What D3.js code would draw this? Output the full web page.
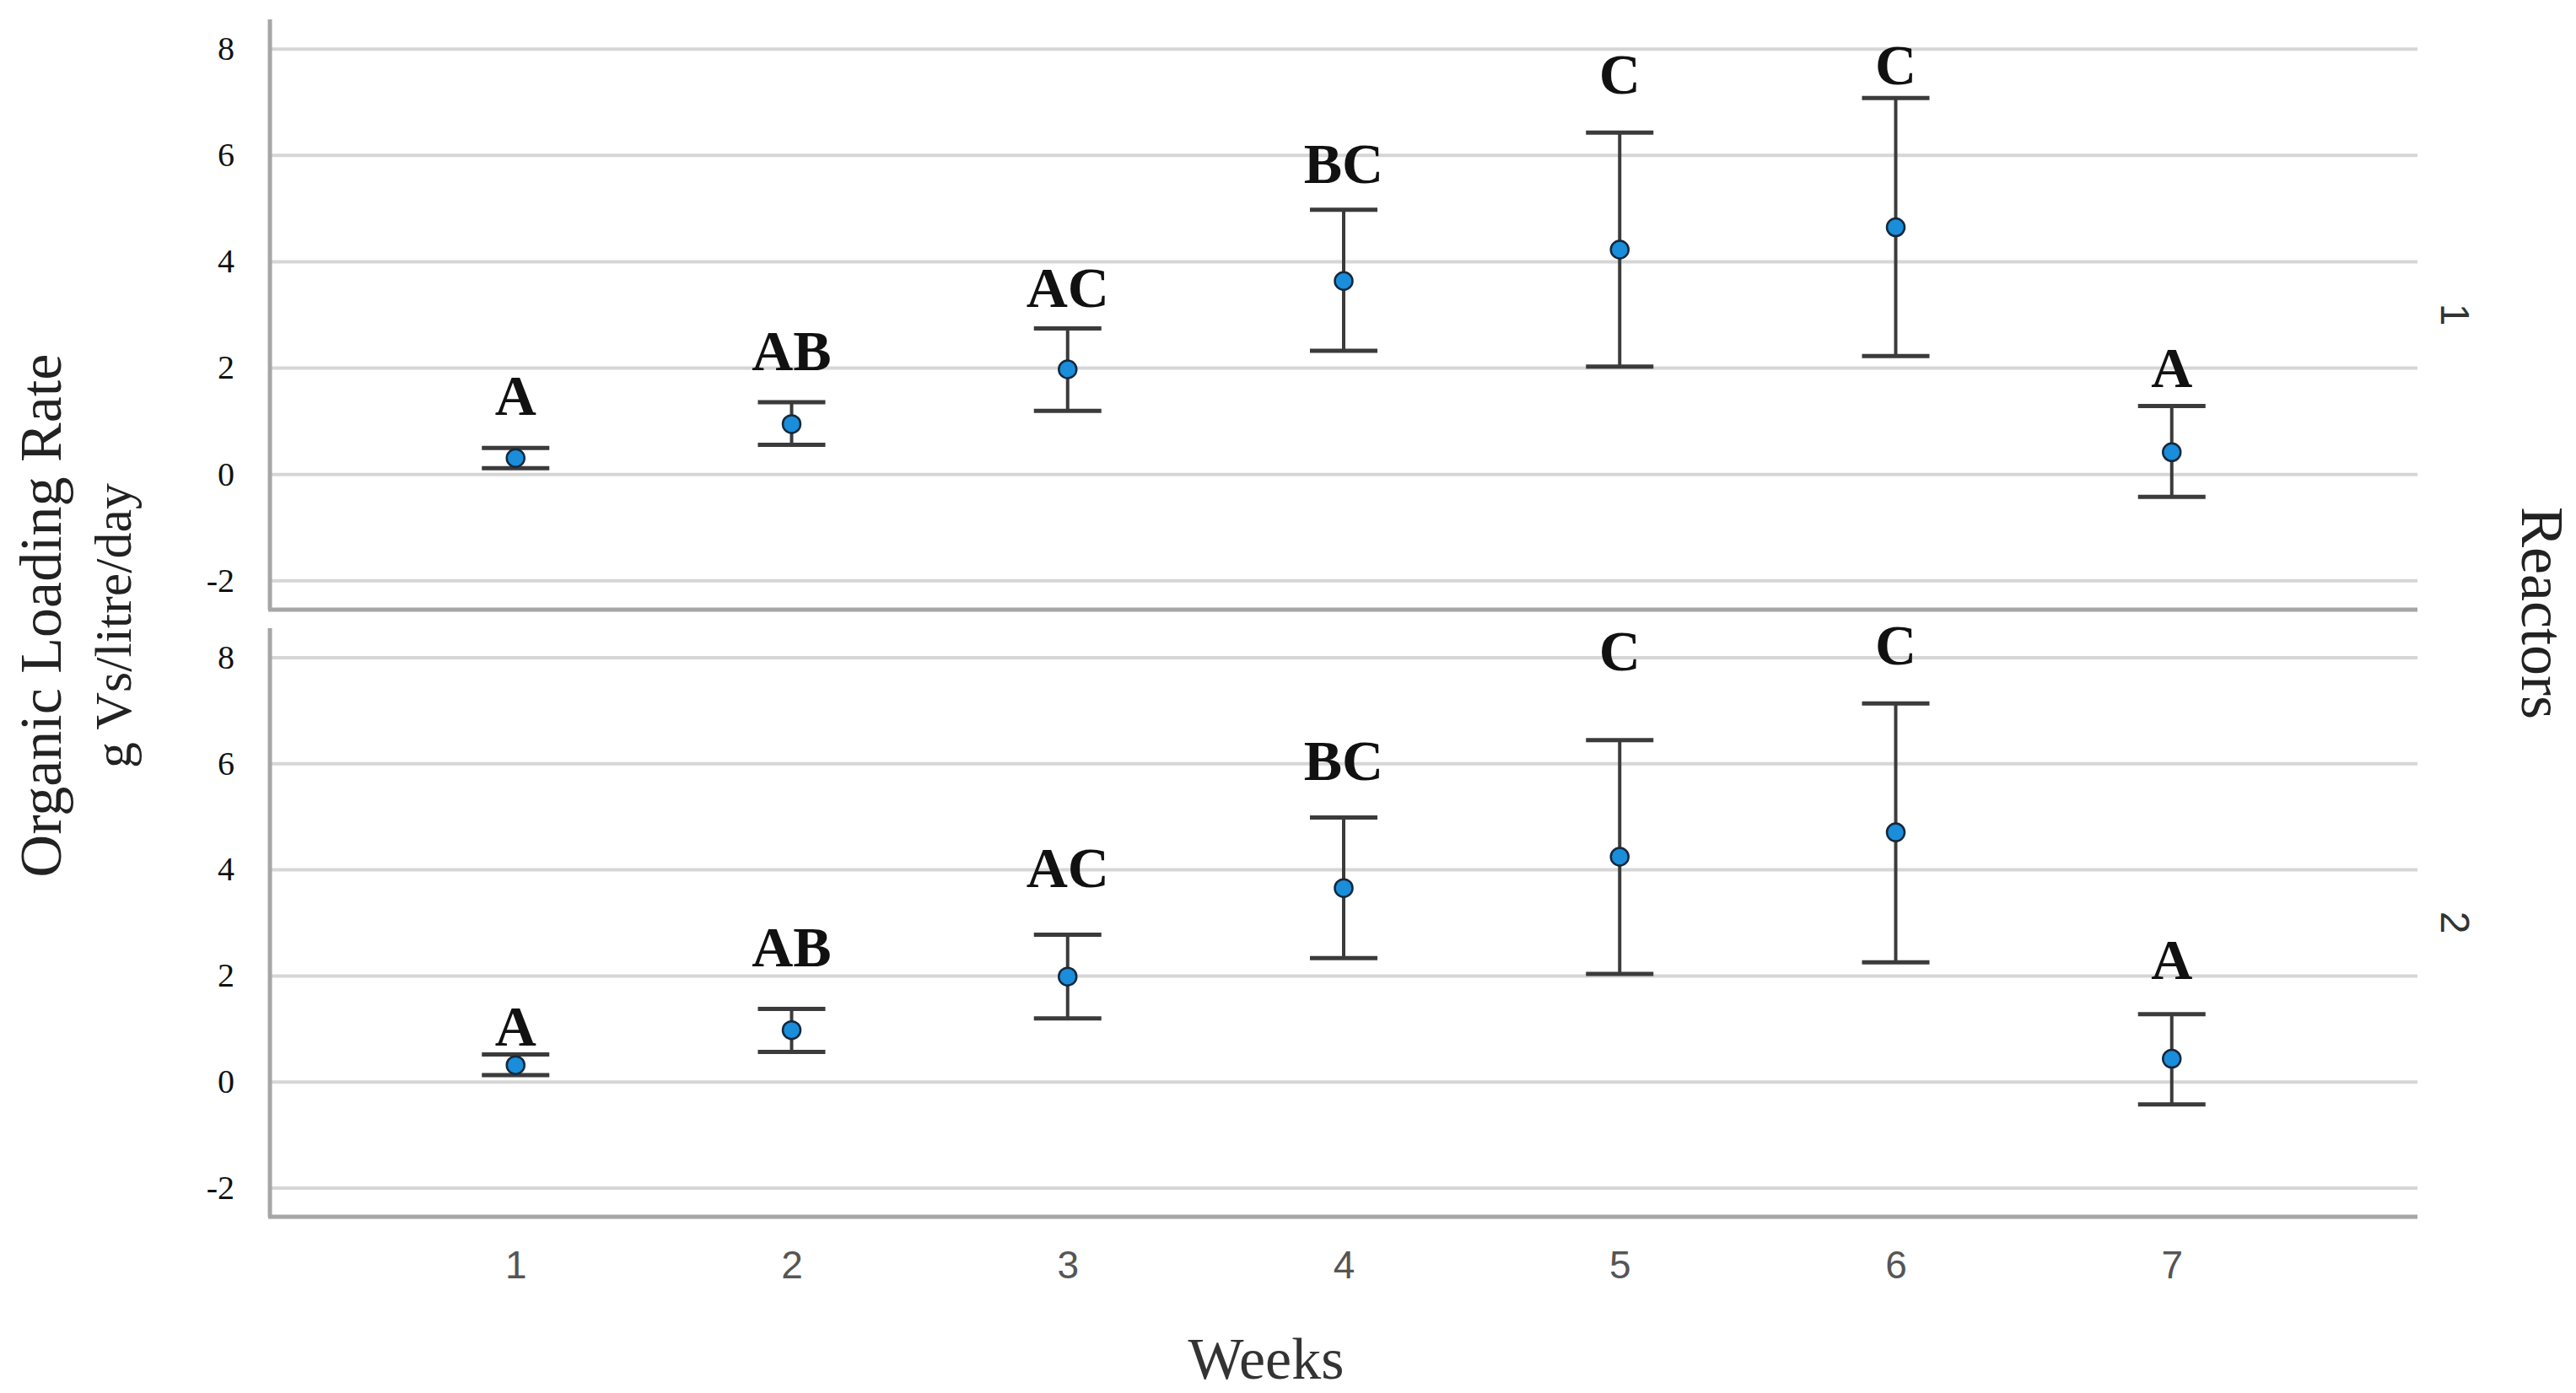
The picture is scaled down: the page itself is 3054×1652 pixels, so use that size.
<!DOCTYPE html>
<html>
<head>
<meta charset="utf-8">
<script src="https://cdn.jsdelivr.net/npm/d3@7"></script>
<style>
  html, body { margin: 0; padding: 0; background: #fff; }
  svg { display: block; }
</style>
</head>
<body>
<svg id="chart" width="3054" height="1652"></svg>
<script>
// weeks on the x axis
var weeks = [1, 2, 3, 4, 5, 6, 7]
var reactors = ["1", "2"]
var yTicks = [-2, 0, 2, 4, 6, 8]

// reactor 1 : mean with lower / upper error bar ends
var reactor1Mean = [0.30, 0.94, 1.97, 3.63, 4.22, 4.64, 0.41]
var reactor1Upper = [0.49, 1.35, 2.74, 4.97, 6.42, 7.07, 1.28]
var reactor1Lower = [0.11, 0.55, 1.19, 2.32, 2.02, 2.22, -0.43]

// reactor 2
var reactor2Mean = [0.31, 0.97, 1.98, 3.65, 4.24, 4.70, 0.43]
var reactor2Upper = [0.51, 1.37, 2.77, 4.98, 6.44, 7.13, 1.27]
var reactor2Lower = [0.12, 0.56, 1.19, 2.33, 2.03, 2.25, -0.43]

// significance letters and the value they sit at
var groupLetters = ["A", "AB", "AC", "BC", "C", "C", "A"]
var reactor1LetterY = [1.11, 1.95, 3.15, 5.47, 7.16, 7.33, 1.63]
var reactor2LetterY = [0.68, 2.17, 3.67, 5.68, 7.76, 7.86, 1.94]

var svg = d3.select("#chart")
var left = 320, right = 2866
var panels = [
    {top: 23, bottom: 723, mean: reactor1Mean, upper: reactor1Upper, lower: reactor1Lower, letterY: reactor1LetterY},
    {top: 745, bottom: 1443, mean: reactor2Mean, upper: reactor2Upper, lower: reactor2Lower, letterY: reactor2LetterY}
]

var x = d3.scalePoint().domain(weeks).range([left, right]).padding(0.89)

svg.append("rect").attr("width", 3054).attr("height", 1652).attr("fill", "#fff")

panels.forEach(function (p, i) {
    var y = d3.scaleLinear().domain([-2.55, 8.55]).range([p.bottom, p.top])
    var g = svg.append("g")

    // gridlines + tick labels
    var yAxis = g.append("g")
        .attr("transform", "translate(" + left + ",0)")
        .call(d3.axisLeft(y).tickValues(yTicks).tickSize(-(right - left)).tickPadding(42)
            .tickFormat(function (d) { return String(d) }))
    yAxis.select(".domain").remove()
    yAxis.selectAll("line").attr("stroke", "#d6d6d6").attr("stroke-width", 4)
    yAxis.selectAll("text")
        .attr("font-family", "Liberation Serif, Times New Roman, serif")
        .attr("font-size", 40)
        .attr("fill", "#111")

    // axis frame: left line and bottom line
    g.append("line")
        .attr("x1", left).attr("x2", left)
        .attr("y1", p.top).attr("y2", p.bottom)
        .attr("stroke", "#a6a6a6").attr("stroke-width", 5)
    g.append("line")
        .attr("x1", left - 2).attr("x2", right)
        .attr("y1", p.bottom).attr("y2", p.bottom)
        .attr("stroke", "#a6a6a6").attr("stroke-width", 5)

    var rows = weeks.map(function (w, j) {
        return {week: w, mean: p.mean[j], upper: p.upper[j], lower: p.lower[j], letter: groupLetters[j], ly: p.letterY[j]}
    })

    var bars = g.selectAll(".bar").data(rows).enter().append("g").attr("class", "bar")
    bars.append("line")
        .attr("x1", function (d) { return x(d.week) })
        .attr("x2", function (d) { return x(d.week) })
        .attr("y1", function (d) { return y(d.upper) })
        .attr("y2", function (d) { return y(d.lower) })
        .attr("stroke", "#3b3b3b").attr("stroke-width", 4)
    bars.append("line")
        .attr("x1", function (d) { return x(d.week) - 40 })
        .attr("x2", function (d) { return x(d.week) + 40 })
        .attr("y1", function (d) { return y(d.upper) })
        .attr("y2", function (d) { return y(d.upper) })
        .attr("stroke", "#3b3b3b").attr("stroke-width", 5)
    bars.append("line")
        .attr("x1", function (d) { return x(d.week) - 40 })
        .attr("x2", function (d) { return x(d.week) + 40 })
        .attr("y1", function (d) { return y(d.lower) })
        .attr("y2", function (d) { return y(d.lower) })
        .attr("stroke", "#3b3b3b").attr("stroke-width", 5)
    bars.append("circle")
        .attr("cx", function (d) { return x(d.week) })
        .attr("cy", function (d) { return y(d.mean) })
        .attr("r", 10.5)
        .attr("fill", "#1a8ddb")
        .attr("stroke", "#15283a").attr("stroke-width", 2.5)
    bars.append("text")
        .attr("x", function (d) { return x(d.week) })
        .attr("y", function (d) { return y(d.ly) })
        .attr("text-anchor", "middle")
        .attr("font-family", "Liberation Serif, Times New Roman, serif")
        .attr("font-weight", "bold")
        .attr("font-size", 68)
        .attr("fill", "#111")
        .text(function (d) { return d.letter })

    // reactor facet label
    var cy = (p.top + p.bottom) / 2
    g.append("text")
        .attr("transform", "translate(2911," + cy + ") rotate(90)")
        .attr("text-anchor", "middle")
        .attr("dy", "0.35em")
        .attr("font-family", "Liberation Sans, Arial, sans-serif")
        .attr("font-size", 48)
        .attr("fill", "#333")
        .text(reactors[i])
})

// x axis labels under the lower panel
var xAxis = svg.append("g")
    .attr("transform", "translate(0,1443)")
    .call(d3.axisBottom(x).tickSize(0).tickPadding(40))
xAxis.select(".domain").remove()
xAxis.selectAll("text")
    .attr("font-family", "Liberation Sans, Arial, sans-serif")
    .attr("font-size", 46)
    .attr("fill", "#555")

svg.append("text")
    .attr("x", 1501).attr("y", 1635)
    .attr("text-anchor", "middle")
    .attr("font-family", "Liberation Serif, Times New Roman, serif")
    .attr("font-size", 70)
    .attr("fill", "#333")
    .text("Weeks")

svg.append("text")
    .attr("transform", "translate(72,730) rotate(-90)")
    .attr("text-anchor", "middle")
    .attr("font-family", "Liberation Serif, Times New Roman, serif")
    .attr("font-size", 70)
    .attr("fill", "#222")
    .text("Organic Loading Rate")

svg.append("text")
    .attr("transform", "translate(155,742) rotate(-90)")
    .attr("text-anchor", "middle")
    .attr("font-family", "Liberation Serif, Times New Roman, serif")
    .attr("font-size", 62)
    .attr("fill", "#222")
    .text("g Vs/litre/day")

svg.append("text")
    .attr("transform", "translate(2990,727) rotate(90)")
    .attr("text-anchor", "middle")
    .attr("font-family", "Liberation Serif, Times New Roman, serif")
    .attr("font-size", 72)
    .attr("fill", "#222")
    .text("Reactors")
</script>
</body>
</html>
